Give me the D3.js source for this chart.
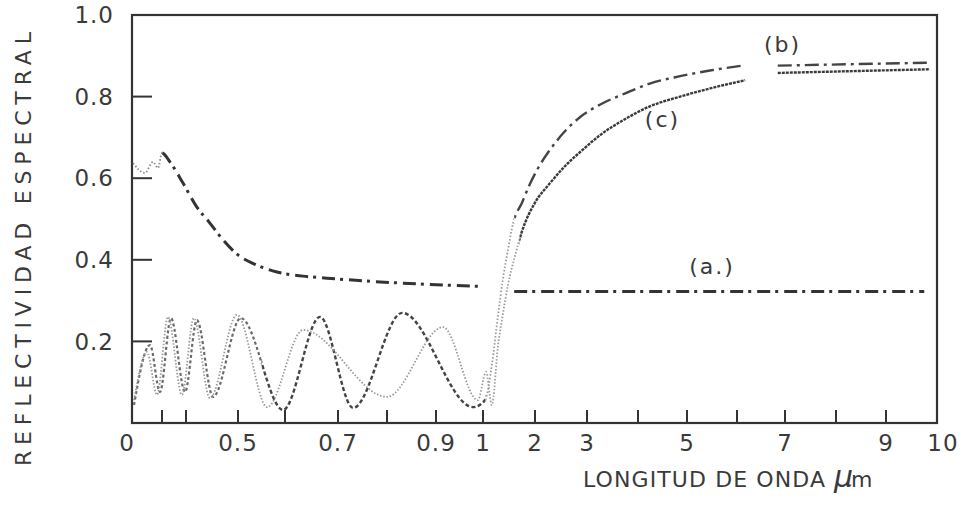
<!DOCTYPE html>
<html>
<head>
<meta charset="utf-8">
<script src="https://cdn.jsdelivr.net/npm/d3@7"></script>
<style>
    body { margin: 0; background: #fff; }
    text { font-family: "DejaVu Sans", sans-serif; fill: #3a3a3a; }
</style>
</head>
<body>
<div id="chart"></div>
<script>

// data: [wavelength um, reflectivity]
const curveA = [
    [0.01, 0.637], [0.13, 0.613], [0.21, 0.640], [0.26, 0.625], [0.30, 0.662],
    [0.333, 0.640], [0.3875, 0.588], [0.421, 0.529], [0.446, 0.490], [0.471, 0.449],
    [0.498, 0.414], [0.540, 0.387], [0.583, 0.370], [0.634, 0.360], [0.679, 0.355],
    [0.827, 0.343], [0.99, 0.335], [1.3, null],
    [1.6, 0.322], [9.75, 0.322]
]

const curveB = [
    [0.02, 0.044], [0.18, 0.191], [0.28, 0.076], [0.3375, 0.257], [0.396, 0.076],
    [0.421, 0.252], [0.452, 0.064], [0.506, 0.257], [0.596, 0.032], [0.666, 0.260],
    [0.731, 0.037], [0.831, 0.270], [0.979, 0.039], [1.04, 0.056], [1.17, 0.142],
    [1.29, 0.265], [1.38, 0.350], [1.48, 0.424], [1.58, 0.490], [1.75, 0.540],
    [1.90, 0.585], [2.06, 0.625], [2.29, 0.670], [2.54, 0.710], [2.87, 0.750],
    [3.25, 0.780], [3.75, 0.808], [4.24, 0.832], [4.86, 0.850], [5.46, 0.864],
    [6.12, 0.876], [6.5, null],
    [6.85, 0.876], [9.86, 0.883]
]

const curveC = [
    [0.02, 0.056], [0.15, 0.174], [0.25, 0.069], [0.325, 0.260], [0.383, 0.069],
    [0.415, 0.257], [0.446, 0.061], [0.498, 0.265], [0.562, 0.039], [0.634, 0.228],
    [0.80, 0.064], [0.915, 0.235], [0.989, 0.056], [1.06, 0.125], [1.17, 0.044],
    [1.29, 0.191], [1.38, 0.265], [1.48, 0.338], [1.62, 0.412], [1.75, 0.470],
    [2.0, 0.540], [2.29, 0.588], [2.58, 0.630], [2.92, 0.670], [3.25, 0.705],
    [3.75, 0.745], [4.24, 0.776], [4.86, 0.800], [5.46, 0.820], [6.17, 0.840], [6.5, null],
    [6.85, 0.858], [9.86, 0.867]
]

const xTicks = [0.3, 0.4, 0.5, 0.6, 0.7, 0.8, 0.9, 1, 2, 3, 4, 5, 6, 7, 8, 9]
const xLabels = [0, 0.5, 0.7, 0.9, 1, 2, 3, 5, 7, 9, 10]
const yTicks = [0.2, 0.4, 0.6, 0.8]
const yLabels = [0.2, 0.4, 0.6, 0.8, 1.0]

const curveNames = [
    { name: '(b)', x: 6.95, y: 0.91 },
    { name: '(c)', x: 4.5, y: 0.725 },
    { name: '(a.)', x: 5.5, y: 0.365 }
]

const dim = { width: 964, height: 520 }

const svg = d3.select('#chart')
    .append('svg')
        .attr('width', dim.width)
        .attr('height', dim.height)

svg.append('rect')
    .attr('width', dim.width)
    .attr('height', dim.height)
    .attr('fill', '#fff')

// hand drawn axis: piecewise scale, tight below 1 um, linear above
const xScale = d3.scaleLinear()
    .domain([0, 0.3, 0.4, 0.5, 0.6, 0.7, 0.8, 0.9, 1, 2, 3, 4, 5, 6, 7, 8, 9, 10])
    .range([132, 162, 186, 238, 285, 338, 387, 436, 483, 535, 587, 638, 687, 737, 785, 836, 886, 937])

const yScale = d3.scaleLinear()
    .domain([0, 1])
    .range([423, 15])

// frame
svg.append('rect')
    .attr('x', xScale(0))
    .attr('y', yScale(1))
    .attr('width', xScale(10) - xScale(0))
    .attr('height', yScale(0) - yScale(1))
    .attr('fill', 'none')
    .attr('stroke', '#333')
    .attr('stroke-width', 2.2)

// ticks
svg.append('g')
    .selectAll('line')
    .data(xTicks)
    .join('line')
        .attr('x1', d => xScale(d))
        .attr('x2', d => xScale(d))
        .attr('y1', yScale(0))
        .attr('y2', yScale(0) - 13)
        .attr('stroke', '#333')
        .attr('stroke-width', 2)

svg.append('g')
    .selectAll('line')
    .data(yTicks)
    .join('line')
        .attr('x1', xScale(0))
        .attr('x2', xScale(0) + 20)
        .attr('y1', d => yScale(d))
        .attr('y2', d => yScale(d))
        .attr('stroke', '#333')
        .attr('stroke-width', 2)

// tick labels
svg.append('g')
    .selectAll('text')
    .data(xLabels)
    .join('text')
        .attr('x', d => xScale(d) + (d === 0 ? -5 : d === 10 ? 6 : 0))
        .attr('y', 451)
        .attr('text-anchor', 'middle')
        .attr('font-size', 23)
        .attr('letter-spacing', 1)
        .text(d => d)

svg.append('g')
    .selectAll('text')
    .data(yLabels)
    .join('text')
        .attr('x', 114)
        .attr('y', d => yScale(d))
        .attr('dy', '0.36em')
        .attr('text-anchor', 'end')
        .attr('font-size', 23)
        .attr('letter-spacing', 1)
        .text(d => d.toFixed(1))

// axis titles
svg.append('text')
    .attr('transform', 'translate(31,466) rotate(-90)')
    .attr('font-size', 22)
    .attr('textLength', 434)
    .attr('lengthAdjust', 'spacing')
    .text('REFLECTIVIDAD ESPECTRAL')

svg.append('text')
    .attr('x', 583)
    .attr('y', 487)
    .attr('font-size', 22)
    .attr('textLength', 242)
    .attr('lengthAdjust', 'spacing')
    .text('LONGITUD DE ONDA')

svg.append('text')
    .attr('x', 834)
    .attr('y', 487)
    .attr('font-size', 30)
    .attr('font-style', 'italic')
    .text('\u03bc')

svg.append('text')
    .attr('x', 851)
    .attr('y', 487)
    .attr('font-size', 22)
    .text('m')

// curve styles by wavelength range, drawn through clip paths
const styles = {
    a: [
        { from: 0, to: 0.3, color: '#8a8a8a', width: 1.8, dash: '1.5,2' },
        { from: 0.3, to: 10, color: '#333', width: 3, dash: '13,5,3,6' }
    ],
    b: [
        { from: 0, to: 0.55, color: '#6a6a6a', width: 2.2, dash: '3,2.5' },
        { from: 0.55, to: 1.05, color: '#444', width: 2.4, dash: '4,2.5' },
        { from: 1.05, to: 1.6, color: '#999', width: 1.8, dash: '1.5,2' },
        { from: 1.6, to: 10, color: '#444', width: 2.4, dash: '14,5,3,5' }
    ],
    c: [
        { from: 0, to: 1.7, color: '#9a9a9a', width: 1.8, dash: '1.5,1.8' },
        { from: 1.7, to: 10, color: '#3a3a3a', width: 2.4, dash: '3,1' }
    ]
}

const line = d3.line()
    .defined(d => d[1] !== null)
    .x(d => xScale(d[0]))
    .y(d => yScale(d[1]))
    .curve(d3.curveMonotoneX)

const defs = svg.append('defs')
const curves = [['a', curveA], ['b', curveB], ['c', curveC]]

curves.forEach(([key, data]) => {
    styles[key].forEach((s, i) => {
        const id = `clip-${key}-${i}`
        defs.append('clipPath')
            .attr('id', id)
            .append('rect')
                .attr('x', xScale(s.from))
                .attr('y', 0)
                .attr('width', xScale(s.to) - xScale(s.from))
                .attr('height', dim.height)
        svg.append('path')
            .datum(data)
            .attr('clip-path', `url(#${id})`)
            .attr('d', line)
            .attr('fill', 'none')
            .attr('stroke', s.color)
            .attr('stroke-width', s.width)
            .attr('stroke-dasharray', s.dash)
    })
})

// curve names
svg.append('g')
    .selectAll('text')
    .data(curveNames)
    .join('text')
        .attr('x', d => xScale(d.x))
        .attr('y', d => yScale(d.y))
        .attr('text-anchor', 'middle')
        .attr('font-size', 22)
        .attr('letter-spacing', 2)
        .text(d => d.name)

</script>
</body>
</html>
